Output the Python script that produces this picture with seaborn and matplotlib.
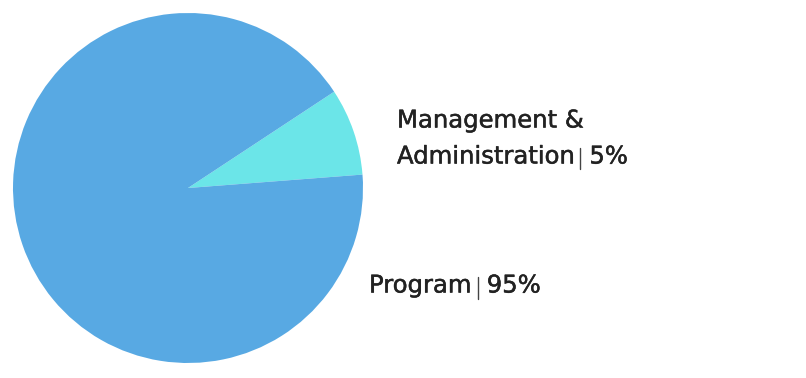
import matplotlib
matplotlib.use("Agg")
import matplotlib.pyplot as plt
from matplotlib.lines import Line2D
import matplotlib.patheffects as pe
import seaborn as sns

sns.set_theme(style="white")
plt.rcParams['font.family'] = ['DejaVu Sans']

categories = ["Management &\nAdministration", "Program"]
# slice sizes as drawn in the picture
values = [8.05, 91.95]
pct_labels = ["5%", "95%"]
colors = ["#6BE5E8", "#58A9E3"]

W, H = 806, 378
fig = plt.figure(figsize=(W / 100, H / 100), dpi=100)
fig.patch.set_facecolor("white")

# pie axes: centre (188,188), radius 175 px
ax = fig.add_axes([13 / W, (H - 363) / H, 350 / W, 350 / H])
ax.pie(values, colors=colors, startangle=4.4, counterclock=True,
       radius=1.0, wedgeprops=dict(linewidth=0))
ax.set_xlim(-1, 1)
ax.set_ylim(-1, 1)
ax.set_aspect("equal")
ax.axis("off")

fs = 17.5
txtcol = "#222222"
sepcol = "#444444"
peff = [pe.withStroke(linewidth=0.35, foreground=txtcol)]

fig.canvas.draw()
renderer = fig.canvas.get_renderer()


def label_line(x_px, base_px, name, pct):
    y = (H - base_px) / H
    t = fig.text(x_px / W, y, name, fontsize=fs, color=txtcol, va="baseline", ha="left",
                 path_effects=peff)
    bb = t.get_window_extent(renderer)
    xs = bb.x1 + 6
    fig.add_artist(Line2D([xs / W, xs / W], [(H - base_px + 16) / H, (H - base_px - 6) / H],
                          transform=fig.transFigure, color=sepcol, linewidth=1.0))
    fig.text((xs + 9) / W, y, pct, fontsize=fs, color=txtcol, va="baseline", ha="left",
             path_effects=peff)


# Management & Administration label
mg_lines = categories[0].split("\n")
fig.text(397 / W, (H - 127.5) / H, mg_lines[0], fontsize=fs, color=txtcol,
         va="baseline", ha="left", path_effects=peff)
label_line(397, 163.5, mg_lines[1], pct_labels[0])
label_line(369, 292.5, categories[1], pct_labels[1])

fig.savefig("out.png", dpi=100, facecolor="white")
